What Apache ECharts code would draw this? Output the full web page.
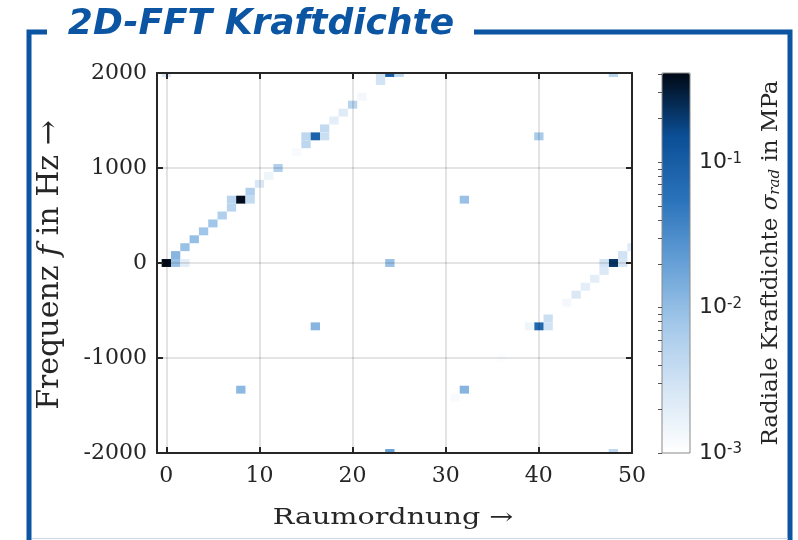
<!DOCTYPE html>
<html><head><meta charset="utf-8">
<script src="https://cdn.jsdelivr.net/npm/echarts@6/dist/echarts.min.js"></script>
<style>html,body{margin:0;padding:0;background:#fff}#c{width:798px;height:540px}</style>
</head><body><div id="c"></div>
<script>
// ---- data ----
const cellOrder = [0,1,1,2,2,3,4,5,6,7,7,8,9,9,10,11,12,14,15,15,16,17,17,18,19,20,21,23,23,24,25,0,
  24,16,8,32,40,32,24,
  48,47,47,49,49,50,46,45,44,43,41,41,40,39,36,31,48,48];
const cellFreq = [0,83.3,0,166.7,0,250,333.3,416.7,500,583.3,666.7,666.7,750,666.7,833.3,916.7,1000,1166.7,1250,1333.3,1333.3,1416.7,1333.3,1500,1583.3,1666.7,1750,1916.7,2000,2000,2000,2000,
  0,-666.7,-1333.3,666.7,1333.3,-1333.3,-2000,
  0,0,-83.3,83.3,0,166.7,-166.7,-250,-333.3,-416.7,-583.3,-666.7,-666.7,-666.7,-1000,-1416.7,-2000,2000];
const cellValue = [0.40,0.012,0.009,0.009,0.002,0.0095,0.008,0.008,0.006,0.005,0.005,0.38,0.006,0.004,0.0025,0.0015,0.006,0.0012,0.0045,0.0045,0.085,0.004,0.0035,0.002,0.0022,0.005,0.0013,0.003,0.003,0.1,0.0045,0.0025,
  0.009,0.012,0.011,0.009,0.007,0.012,0.02,
  0.22,0.003,0.0024,0.003,0.0028,0.0022,0.002,0.002,0.0025,0.0013,0.0035,0.003,0.075,0.0015,0.0011,0.0012,0.0045,0.005];
const xTickValues = [0,10,20,30,40,50];
const yTickMin = -2000, yTickMax = 2000, yTickStep = 1000;
const cbDecades = [-3,-2,-1];
const cbMantissas = [1,2,3,4,5,6,7,8,9];
const cbMaxValue = 0.41;

// ---- derived ----
const FREQ_STEP = 83.333;
const cbMaxLog = Math.log10(cbMaxValue);
const data = cellOrder.map((o,i)=>[o, cellFreq[i], Math.log10(cellValue[i])]);
const cbTicks = [];
cbDecades.forEach(d=>cbMantissas.forEach(m=>{const v=d+Math.log10(m); if(v<=cbMaxLog+1e-9) cbTicks.push(v);}));

const serif = '"DejaVu Serif"';
const sans = '"DejaVu Sans"';
const axisCol = '#262626';
const frameCol = '#0b55a3';

const chart = echarts.init(document.getElementById('c'), null, {renderer:'canvas'});
const gridLine = {show:true, lineStyle:{color:'rgba(0,0,0,0.14)', width:1.6}};
chart.setOption({
  animation:false,
  grid:[
    {left:157, top:73, width:475, height:380, containLabel:false},
    {left:662, top:73, width:28, height:380, show:true, z:10, backgroundColor:'transparent', borderColor:'#8a8a8a', borderWidth:1}
  ],
  xAxis:[
    {gridIndex:0, type:'value', min:-1, max:50, position:'bottom', z:5,
     axisLine:{show:true, onZero:false, lineStyle:{color:axisCol, width:2}},
     axisTick:{show:true, inside:true, length:6, customValues:xTickValues, lineStyle:{color:axisCol, width:2}},
     axisLabel:{show:true, customValues:xTickValues, margin:12, color:axisCol, fontFamily:serif, fontSize:22},
     splitLine:gridLine},
    {gridIndex:0, type:'value', min:-1, max:50, position:'top', z:5,
     axisLine:{show:true, onZero:false, lineStyle:{color:axisCol, width:2}},
     axisTick:{show:true, inside:true, length:6, customValues:xTickValues, lineStyle:{color:axisCol, width:2}},
     axisLabel:{show:false}, splitLine:{show:false}},
    {gridIndex:1, type:'value', min:0, max:1, show:false}
  ],
  yAxis:[
    {gridIndex:0, type:'value', min:yTickMin, max:yTickMax, interval:yTickStep, position:'left', z:5,
     axisLine:{show:true, onZero:false, lineStyle:{color:axisCol, width:2}},
     axisTick:{show:true, inside:true, length:6, lineStyle:{color:axisCol, width:2}},
     axisLabel:{show:true, margin:10, color:axisCol, fontFamily:serif, fontSize:22, formatter:v=>String(v)},
     splitLine:gridLine},
    {gridIndex:0, type:'value', min:yTickMin, max:yTickMax, interval:yTickStep, position:'right', z:5,
     axisLine:{show:true, onZero:false, lineStyle:{color:axisCol, width:2}},
     axisTick:{show:true, inside:true, length:6, lineStyle:{color:axisCol, width:2}},
     axisLabel:{show:false}, splitLine:{show:false}},
    {gridIndex:1, type:'value', min:-3, max:cbMaxLog, position:'right', z:11,
     axisLine:{show:false},
     axisTick:{show:true, inside:true, length:4, customValues:cbTicks, lineStyle:{color:'#555', width:1}},
     axisLabel:{show:true, customValues:cbDecades, margin:9, color:axisCol, fontFamily:sans, fontSize:22,
       formatter:v=>'10{sup|' + Math.round(v) + '}',
       rich:{sup:{fontFamily:sans, fontSize:15, verticalAlign:'top', color:axisCol}}},
     splitLine:{show:false}}
  ],
  visualMap:{
    type:'continuous', seriesIndex:0, dimension:2, min:-3, max:cbMaxLog,
    calculable:false, orient:'vertical', left:662, top:73, itemWidth:28, itemHeight:380,
    padding:0, text:null, showLabel:false,
    inRange:{color:['#ffffff','#d6e6f5','#a5c9ea','#66a0d6','#2a73bb','#0b4f96','#000814']}
  },
  series:[{
    type:'custom', xAxisIndex:0, yAxisIndex:0, clip:true, z:2,
    encode:{x:0, y:1},
    data:data,
    renderItem:(params, api)=>{
      const x = api.value(0), y = api.value(1);
      const p1 = api.coord([x-0.5, y+FREQ_STEP/2]);
      const p2 = api.coord([x+0.5, y-FREQ_STEP/2]);
      const rect = echarts.graphic.clipRectByRect(
        {x:p1[0], y:p1[1], width:p2[0]-p1[0], height:p2[1]-p1[1]},
        {x:params.coordSys.x, y:params.coordSys.y, width:params.coordSys.width, height:params.coordSys.height});
      if(!rect) return null;
      return {type:'rect', shape:rect, style:{fill:api.visual('color')}};
    }
  }],
  graphic:[
    {type:'polyline', z:1, shape:{points:[[47,32],[29,32],[29,560]]}, style:{stroke:frameCol, lineWidth:5, fill:null}},
    {type:'polyline', z:1, shape:{points:[[474,32],[790,32],[790,560]]}, style:{stroke:frameCol, lineWidth:5, fill:null}},
    {type:'line', z:1, shape:{x1:32, y1:538.5, x2:788, y2:538.5}, style:{stroke:'#c8d7ea', lineWidth:1}},
    {type:'text', x:261, y:25, z:3, style:{text:'2D-FFT Kraftdichte', font:'italic bold 36px "DejaVu Sans"', fill:frameCol, textAlign:'center', textVerticalAlign:'middle'}},
    {type:'text', x:393, y:518, scaleX:1.3, z:3, style:{text:'Raumordnung →', font:'22px "DejaVu Serif"', fill:axisCol, textAlign:'center', textVerticalAlign:'middle'}},
    {type:'text', x:50, y:265, rotation:Math.PI/2, z:3, style:{text:'Frequenz {i|f} in Hz →', font:'30px "DejaVu Serif"', fill:axisCol, textAlign:'center', textVerticalAlign:'middle',
      rich:{i:{font:'italic 30px "DejaVu Serif"', fill:axisCol}}}},
    {type:'text', x:771, y:263, rotation:Math.PI/2, z:3, style:{text:'Radiale Kraftdichte {s|σ}{sub|rad} in MPa', font:'23px "DejaVu Serif"', fill:axisCol, textAlign:'center', textVerticalAlign:'middle',
      rich:{s:{font:'italic 23px "DejaVu Serif"', fill:axisCol}, sub:{font:'italic 15px "DejaVu Serif"', fill:axisCol, verticalAlign:'bottom', padding:[8,0,0,0]}}}}
  ]
});
</script></body></html>
